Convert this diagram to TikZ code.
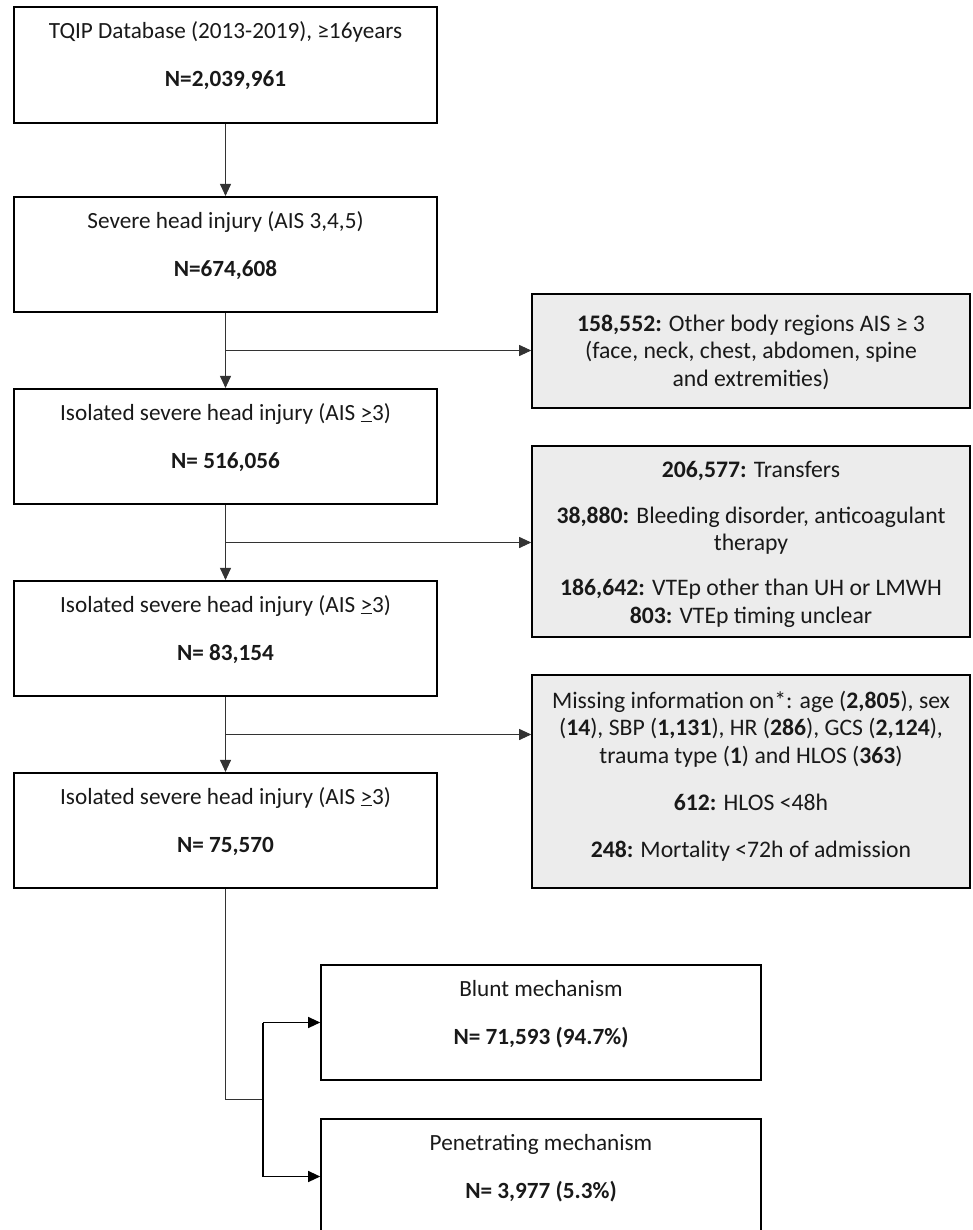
\documentclass[tikz,border=0pt]{standalone}
\usepackage{fontspec}
\setmainfont{Carlito}
\usetikzlibrary{arrows.meta,calc}
\begin{document}
\begin{tikzpicture}[x=1pt,y=-1pt,
  mainbox/.style={draw=black, line width=1.6pt, fill=white, minimum width=423pt, minimum height=115.5pt, inner sep=0pt},
  sidebox/.style={draw=black, line width=1.6pt, fill=gray!15, minimum width=438pt, inner sep=0pt},
  subbox/.style={draw=black, line width=1.6pt, fill=white, minimum width=440pt, minimum height=115pt, inner sep=0pt},
  btxt/.style={align=center, inner sep=0pt, anchor=north, text=black!90, font=\fontsize{23.2}{27}\selectfont},
  gtxt/.style={align=center, inner sep=0pt, anchor=north, text=black!90, font=\fontsize{23.7}{27.5}\selectfont},
  conn/.style={line width=0.9pt, draw=black!80},
  arr/.style={conn, -{Triangle[length=12pt,width=11pt]}},
  boldconn/.style={line width=1.7pt, draw=black},
  boldarr/.style={line width=1.2pt, draw=black, -{Triangle[length=12pt,width=11pt]}}
]
\useasboundingbox (0,0) rectangle (972,1230);
\fill[white] (0,0) rectangle (972,1230);

% main column
\node[mainbox] (b1) at (225.5,65) {};
\node[mainbox] (b2) at (225.5,254.5) {};
\node[mainbox] (b3) at (225.5,446.5) {};
\node[mainbox] (b4) at (225.5,638.5) {};
\node[mainbox] (b5) at (225.5,830.5) {};

\node[btxt] (b1t) at ($(b1.north)+(0,12)$) {\rule{0pt}{20pt}TQIP Database (2013-2019), ≥16years\\[21pt]\textbf{N=2,039,961}};
\node[btxt] (b2t) at ($(b2.north)+(0,12)$) {\rule{0pt}{20pt}Severe head injury (AIS 3,4,5)\\[21pt]\textbf{N=674,608}};
\node[btxt] (b3t) at ($(b3.north)+(0,12)$) {\rule{0pt}{20pt}Isolated severe head injury (AIS \underline{>}3)\\[21pt]\textbf{N= 516,056}};
\node[btxt] (b4t) at ($(b4.north)+(0,12)$) {\rule{0pt}{20pt}Isolated severe head injury (AIS \underline{>}3)\\[21pt]\textbf{N= 83,154}};
\node[btxt] (b5t) at ($(b5.north)+(0,12)$) {\rule{0pt}{20pt}Isolated severe head injury (AIS \underline{>}3)\\[21pt]\textbf{N= 75,570}};

% exclusion boxes
\node[sidebox, minimum height=114pt] (g1) at (751,351) {};
\node[sidebox, minimum height=191pt] (g2) at (751,541.5) {};
\node[sidebox, minimum height=213pt] (g3) at (751,781.5) {};

\node[gtxt] (g1t) at (751,311) {\rule{0pt}{20pt}\textbf{158,552:} Other body regions AIS ≥ 3\\(face, neck, chest, abdomen, spine\\and extremities)};
\node[gtxt] (g2t) at (751,457) {\rule{0pt}{20pt}\textbf{206,577:} Transfers\\[18.5pt]\textbf{38,880:} Bleeding disorder, anticoagulant\\therapy\\[17.5pt]\textbf{186,642:} VTEp other than UH or LMWH\\\textbf{803:} VTEp timing unclear};
\node[gtxt] (g3t) at (751,688) {\rule{0pt}{20pt}Missing information on*: age (\textbf{2,805}), sex\\(\textbf{14}), SBP (\textbf{1,131}), HR (\textbf{286}), GCS (\textbf{2,124}),\\trauma type (\textbf{1}) and HLOS (\textbf{363})\\[19.5pt]\textbf{612:} HLOS <48h\\[19.5pt]\textbf{248:} Mortality <72h of admission};

% mechanism boxes
\node[subbox] (bl) at (541,1022.5) {};
\node[subbox] (pe) at (541,1176.5) {};
\node[btxt] (blt) at ($(bl.north)+(0,12)$) {\rule{0pt}{20pt}Blunt mechanism\\[21pt]\textbf{N= 71,593 (94.7\%)}};
\node[btxt] (pet) at ($(pe.north)+(0,12)$) {\rule{0pt}{20pt}Penetrating mechanism\\[21pt]\textbf{N= 3,977 (5.3\%)}};

% connectors
\draw[arr] (b1.south) -- (b2.north);
\draw[arr] (b2.south) -- (b3.north);
\draw[arr] (b3.south) -- (b4.north);
\draw[arr] (b4.south) -- (b5.north);

\coordinate (j1) at ($(b2.south)!0.5!(b3.north)$);
\coordinate (j2) at ($(b3.south)!0.5!(b4.north)$);
\coordinate (j3) at ($(b4.south)!0.5!(b5.north)$);
\draw[arr] (j1) -- (j1 -| g1.west);
\draw[arr] (j2) -- (j2 -| g2.west);
\draw[arr] (j3) -- (j3 -| g3.west);

\coordinate (k1) at (225.5,1099);
\coordinate (k2) at (263,1099);
\coordinate (t1) at (bl.west -| k2);
\coordinate (t2) at (pe.west -| k2);
\draw[conn] (b5.south) -- (k1) -- (k2);
\draw[boldconn] (t1) -- (t2);
\draw[boldarr] (t1) -- (bl.west);
\draw[boldarr] (t2) -- (pe.west);
\end{tikzpicture}
\end{document}
